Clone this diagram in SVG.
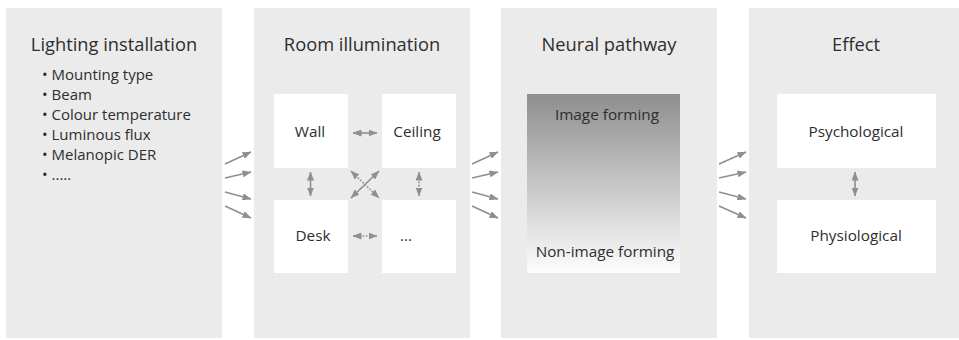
<svg xmlns="http://www.w3.org/2000/svg" width="959" height="340" viewBox="0 0 959 340">
<style>
.panel{fill:#ebebeb}
.box{fill:#ffffff}
.t{font-family:"Open Sans","Liberation Sans",sans-serif;fill:#2e2e2e}
.title{font-size:18.3px;text-anchor:middle}
.lab{font-size:15.3px;text-anchor:middle}
.bul{font-size:15px}
.c{stroke:#8f8f8f;stroke-width:1.6;fill:none}
.dot{stroke-dasharray:1.6 1.6}
</style>
<defs>
<marker id="ah" viewBox="0 0 9 7" refX="8.5" refY="3.5" markerWidth="9" markerHeight="7" markerUnits="userSpaceOnUse" orient="auto-start-reverse">
<path d="M0,0 L9,3.5 L0,7 z" fill="#8f8f8f"/>
</marker>
<linearGradient id="grad" x1="0" y1="0" x2="0" y2="1">
<stop offset="0" stop-color="#8e8e8e"/>
<stop offset="1" stop-color="#fdfdfd"/>
</linearGradient>
</defs>
<g id="panel-lighting">
<rect class="panel" x="6" y="8" width="216" height="330"/>
<text class="t title" x="114" y="51">Lighting installation</text>
<text class="t bul" x="42" y="80">• Mounting type</text>
<text class="t bul" x="42" y="100">• Beam</text>
<text class="t bul" x="42" y="120">• Colour temperature</text>
<text class="t bul" x="42" y="140">• Luminous flux</text>
<text class="t bul" x="42" y="160">• Melanopic DER</text>
<text class="t bul" x="42" y="180">• .....</text>
</g>
<g id="panel-room">
<rect class="panel" x="254" y="8" width="216" height="330"/>
<text class="t title" x="362" y="51">Room illumination</text>
</g>
<g id="node-wall">
<rect class="box" x="274" y="94" width="74" height="74"/>
<text class="t lab" x="310" y="137">Wall</text>
</g>
<g id="node-ceiling">
<rect class="box" x="382" y="94" width="74" height="74"/>
<text class="t lab" x="417" y="137">Ceiling</text>
</g>
<g id="node-desk">
<rect class="box" x="274" y="200" width="74" height="73"/>
<text class="t lab" x="313" y="241">Desk</text>
</g>
<g id="node-other">
<rect class="box" x="382" y="200" width="74" height="73"/>
<text class="t lab" x="406" y="241">...</text>
</g>
<g id="panel-neural">
<rect class="panel" x="501" y="8" width="216" height="330"/>
<text class="t title" x="609" y="51">Neural pathway</text>
<rect x="527" y="94" width="153" height="179" fill="url(#grad)"/>
<text class="t lab" x="607" y="120">Image forming</text>
<text class="t lab" x="605" y="257">Non-image forming</text>
</g>
<g id="panel-effect">
<rect class="panel" x="749" y="8" width="216" height="330"/>
<text class="t title" x="856" y="51">Effect</text>
</g>
<g id="node-psychological">
<rect class="box" x="777" y="94" width="159" height="74"/>
<text class="t lab" x="856" y="137">Psychological</text>
</g>
<g id="node-physiological">
<rect class="box" x="777" y="200" width="159" height="73"/>
<text class="t lab" x="856" y="241">Physiological</text>
</g>
<g id="connectors">
<line class="c" x1="225" y1="164" x2="251" y2="152" marker-end="url(#ah)"/>
<line class="c" x1="225" y1="178" x2="251" y2="172" marker-end="url(#ah)"/>
<line class="c" x1="225" y1="192" x2="251" y2="199" marker-end="url(#ah)"/>
<line class="c" x1="225" y1="206" x2="251" y2="218" marker-end="url(#ah)"/>
<line class="c" x1="472" y1="164" x2="498" y2="152" marker-end="url(#ah)"/>
<line class="c" x1="472" y1="178" x2="498" y2="172" marker-end="url(#ah)"/>
<line class="c" x1="472" y1="192" x2="498" y2="199" marker-end="url(#ah)"/>
<line class="c" x1="472" y1="206" x2="498" y2="218" marker-end="url(#ah)"/>
<line class="c" x1="719" y1="164" x2="746" y2="152" marker-end="url(#ah)"/>
<line class="c" x1="719" y1="178" x2="746" y2="172" marker-end="url(#ah)"/>
<line class="c" x1="719" y1="192" x2="746" y2="199" marker-end="url(#ah)"/>
<line class="c" x1="719" y1="206" x2="746" y2="218" marker-end="url(#ah)"/>
<line class="c" x1="353" y1="133" x2="377" y2="133" marker-start="url(#ah)" marker-end="url(#ah)"/>
<line class="c dot" x1="353" y1="236" x2="377" y2="236" marker-start="url(#ah)" marker-end="url(#ah)"/>
<line class="c" x1="310.5" y1="172" x2="310.5" y2="196" marker-start="url(#ah)" marker-end="url(#ah)"/>
<line class="c dot" x1="419" y1="172" x2="419" y2="196" marker-start="url(#ah)" marker-end="url(#ah)"/>
<line class="c" x1="351" y1="198" x2="379" y2="171" marker-start="url(#ah)" marker-end="url(#ah)"/>
<line class="c dot" x1="351" y1="171" x2="379" y2="198" marker-start="url(#ah)" marker-end="url(#ah)"/>
<line class="c" x1="855" y1="172" x2="855" y2="196" marker-start="url(#ah)" marker-end="url(#ah)"/>
</g>
</svg>
